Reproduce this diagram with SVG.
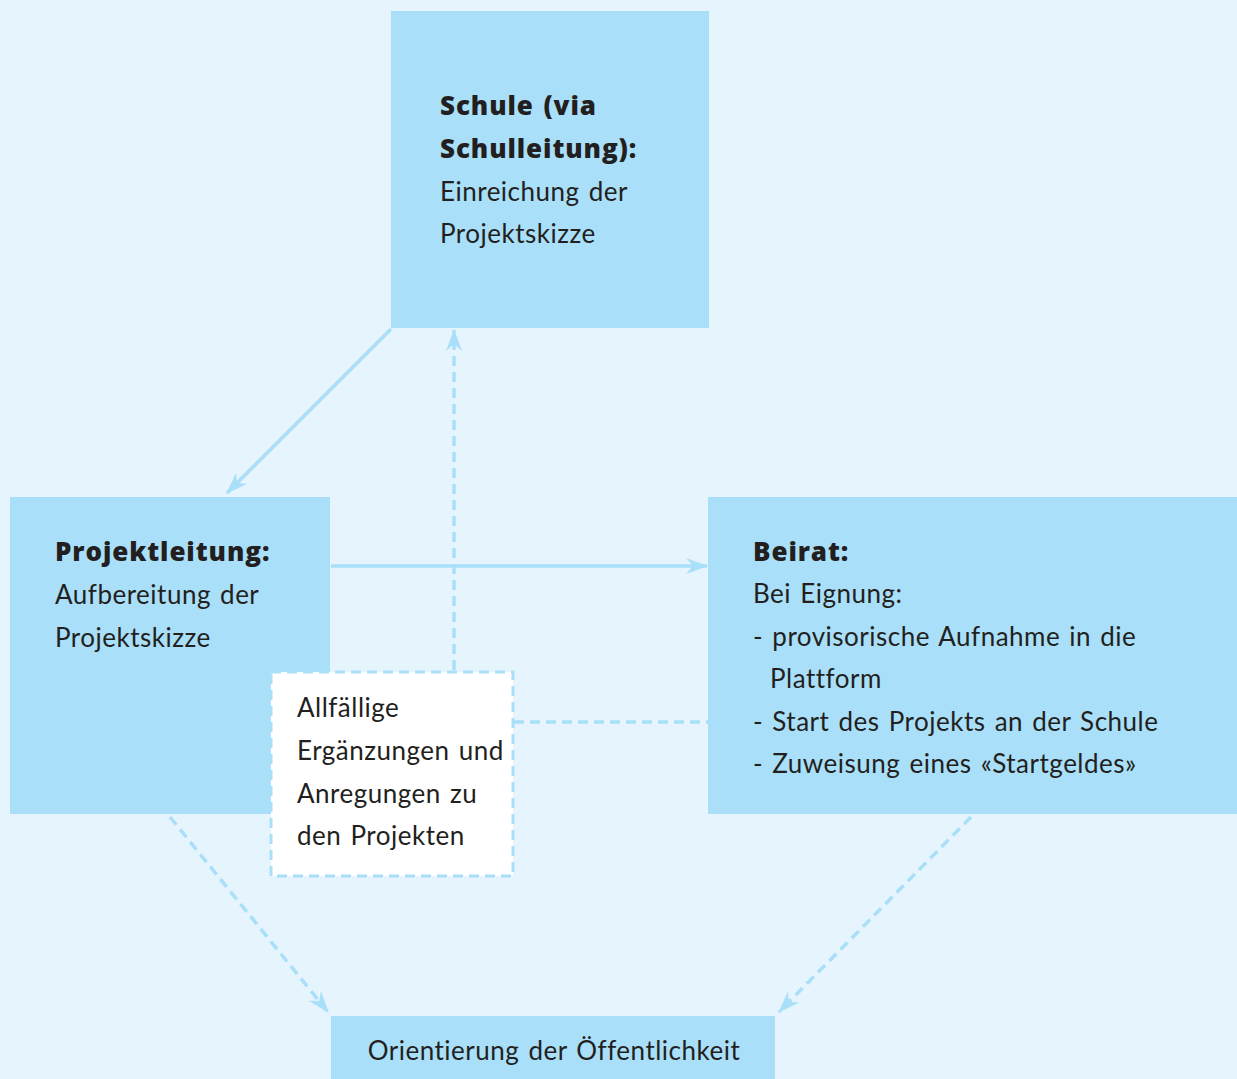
<svg xmlns="http://www.w3.org/2000/svg" width="1237" height="1079" viewBox="0 0 1237 1079">
  <defs>
    <style>
      .box { fill: #a9dff9; }
      .note { fill: #ffffff; stroke: #a9dff9; stroke-width: 3; stroke-dasharray: 10 6; }
      .t { font-family: Lato, "Open Sans", "Liberation Sans", sans-serif; font-size: 26px; fill: #231f20; letter-spacing: 0.5px; word-spacing: 2px; }
      .b { font-family: "Open Sans", "Liberation Sans", sans-serif; font-weight: 800; font-size: 26px; letter-spacing: 0.9px; }
      .solid { fill: none; stroke: #a9dff9; stroke-width: 3.5; }
      .dash { fill: none; stroke: #a9dff9; stroke-width: 3.5; stroke-dasharray: 10 6; }
    </style>
    <marker id="arrow" viewBox="0 0 22 16" refX="21" refY="8" markerWidth="22" markerHeight="16" markerUnits="userSpaceOnUse" orient="auto">
      <path d="M0,0 L22,8 L0,16 L7,8 z" fill="#a9dff9"/>
    </marker>
  </defs>

  <rect width="1237" height="1079" fill="#e6f5fd"/>

  <g id="connectors">
    <line class="solid" x1="391" y1="329" x2="227" y2="493" marker-end="url(#arrow)"/>
    <line class="solid" x1="331" y1="566" x2="707" y2="566" marker-end="url(#arrow)"/>
    <line class="dash" x1="454" y1="670" x2="454" y2="330" marker-end="url(#arrow)"/>
    <line class="dash" x1="514" y1="722" x2="708" y2="722"/>
    <line class="dash" x1="170" y1="817" x2="328" y2="1012" marker-end="url(#arrow)"/>
    <line class="dash" x1="971" y1="817" x2="779" y2="1012" marker-end="url(#arrow)"/>
  </g>

  <g id="schule">
    <rect class="box" x="391" y="11" width="318" height="317"/>
    <text class="t b" x="440" y="115">Schule (via</text>
    <text class="t b" x="440" y="158">Schulleitung):</text>
    <text class="t" x="440" y="201">Einreichung der</text>
    <text class="t" x="440" y="243">Projektskizze</text>
  </g>

  <g id="projektleitung">
    <rect class="box" x="10" y="497" width="320" height="317"/>
    <text class="t b" x="55" y="561">Projektleitung:</text>
    <text class="t" x="55" y="604">Aufbereitung der</text>
    <text class="t" x="55" y="647">Projektskizze</text>
  </g>

  <g id="beirat">
    <rect class="box" x="708" y="497" width="529" height="317"/>
    <text class="t b" x="753" y="561">Beirat:</text>
    <text class="t" x="753" y="603">Bei Eignung:</text>
    <text class="t" x="753" y="646">- provisorische Aufnahme in die</text>
    <text class="t" x="770" y="688">Plattform</text>
    <text class="t" x="753" y="731">- Start des Projekts an der Schule</text>
    <text class="t" x="753" y="773">- Zuweisung eines «Startgeldes»</text>
  </g>

  <g id="ergaenzungen">
    <rect class="note" x="271" y="672" width="242" height="204"/>
    <text class="t" x="297" y="717">Allfällige</text>
    <text class="t" x="297" y="760">Ergänzungen und</text>
    <text class="t" x="297" y="803">Anregungen zu</text>
    <text class="t" x="297" y="845">den Projekten</text>
  </g>

  <g id="oeffentlichkeit">
    <rect class="box" x="331" y="1016" width="444" height="63"/>
    <text class="t" x="554" y="1060" text-anchor="middle">Orientierung der Öffentlichkeit</text>
  </g>
</svg>
